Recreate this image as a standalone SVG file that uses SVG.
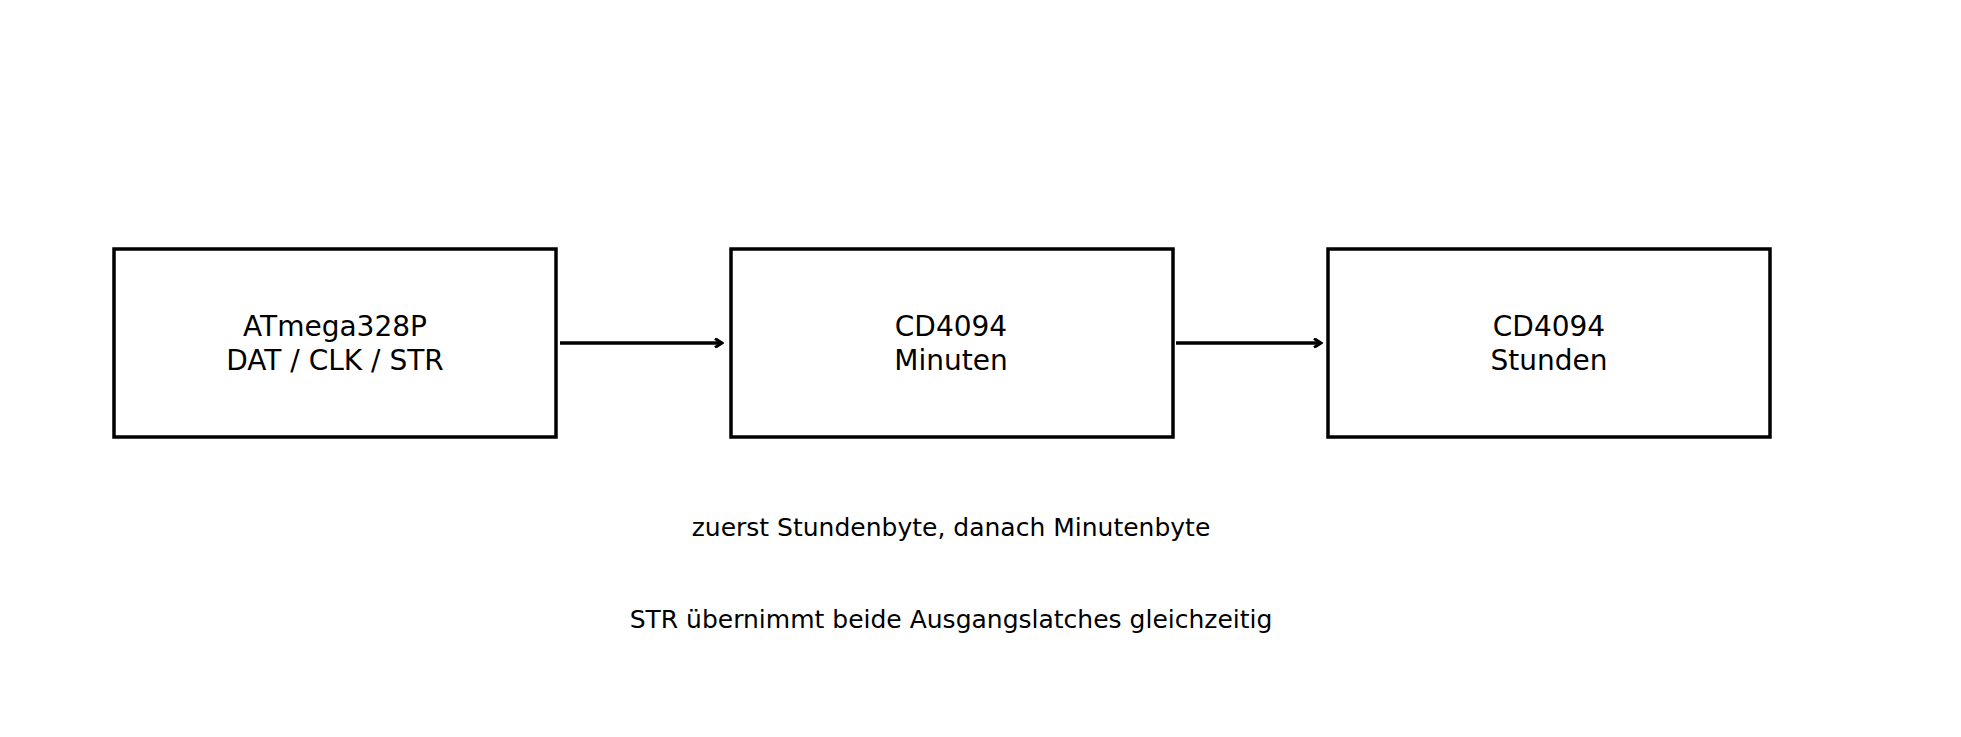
<svg xmlns="http://www.w3.org/2000/svg" width="1961" height="737" viewBox="0 0 1961 737">
<style>
.box{fill:#fff;stroke:#000;stroke-width:3.5}
.t{font-family:"DejaVu Sans",sans-serif;font-size:28px;text-anchor:middle;fill:#000}
.c{font-family:"DejaVu Sans",sans-serif;font-size:25px;text-anchor:middle;fill:#000}
.e{stroke:#000;stroke-width:3.5;fill:none;marker-end:url(#a)}
</style>
<defs><marker id="a" markerWidth="10" markerHeight="10" refX="8" refY="5" orient="auto" markerUnits="userSpaceOnUse"><path d="M1,0.5 L8,5 L1,9.5" fill="none" stroke="#000" stroke-width="3"/></marker></defs>
<rect width="1961" height="737" fill="#fff"/>
<g id="n1"><rect class="box" x="114" y="249" width="442" height="188"/><text class="t" x="335" y="336">ATmega328P</text><text class="t" x="335" y="370">DAT / CLK / STR</text></g>
<g id="n2"><rect class="box" x="731" y="249" width="442" height="188"/><text class="t" x="951" y="336">CD4094</text><text class="t" x="951" y="370">Minuten</text></g>
<g id="n3"><rect class="box" x="1328" y="249" width="442" height="188"/><text class="t" x="1549" y="336">CD4094</text><text class="t" x="1549" y="370">Stunden</text></g>
<g id="edges"><path class="e" d="M560 343 H722"/><path class="e" d="M1176 343 H1321"/></g>
<text class="c" x="951" y="536">zuerst Stundenbyte, danach Minutenbyte</text>
<text class="c" x="951" y="628">STR übernimmt beide Ausgangslatches gleichzeitig</text>
</svg>
